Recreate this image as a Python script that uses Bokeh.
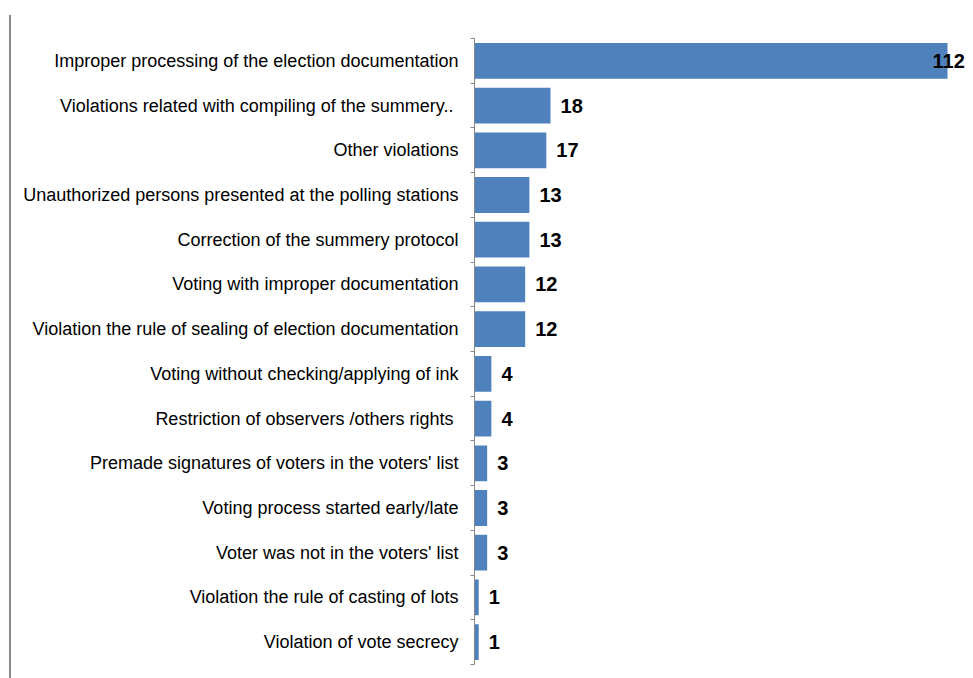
from bokeh.plotting import figure
from bokeh.models import ColumnDataSource, FixedTicker, Range1d
from bokeh.core.properties import value
from bokeh.embed import file_html
from bokeh.resources import INLINE

categories = [
    "Improper processing of the election documentation",
    "Violations related with compiling of  the summery..",
    "Other violations",
    "Unauthorized persons presented at the polling stations",
    "Correction of the summery protocol",
    "Voting with improper documentation",
    "Violation the rule of sealing of election documentation",
    "Voting without checking/applying of ink",
    "Restriction of observers /others rights ",
    "Premade signatures of voters in the voters' list",
    "Voting process started early/late",
    "Voter was not in the voters' list",
    "Violation the rule of casting of lots",
    "Violation of vote secrecy",
]
counts = [112, 18, 17, 13, 13, 12, 12, 4, 4, 3, 3, 3, 1, 1]

n = len(categories)
ypos = [n - i - 0.5 for i in range(n)]
vmax = max(counts)
offsets = [10 if v < vmax else -15 for v in counts]
src = ColumnDataSource(dict(y=ypos, v=counts, lab=[str(c) for c in counts], xo=offsets))

W, H = 973, 678
mleft, bw, mtop = 9, 2, 15     # outer offset and width of the left border line
content_left = mleft + bw
left, top, bottom = 474 - content_left, 38 - mtop, 14
px_per_unit = 473 / 112.0
p = figure(width=W - content_left, height=H - mtop, output_backend="svg", toolbar_location=None,
           x_range=Range1d(0, (W - 474) / px_per_unit), y_range=Range1d(0, n),
           min_border_left=left, min_border_right=0, min_border_top=top, min_border_bottom=bottom)
p.margin = (mtop, 0, 0, mleft)
p.styles = {"border-left": f"{bw}px solid #8c8c8c"}
p.outline_line_color = None
p.xgrid.visible = False
p.ygrid.visible = False
p.xaxis.visible = False
p.background_fill_color = "white"
p.border_fill_color = "white"

p.hbar(y="y", right="v", left=0, height=0.8, source=src, color="#4F81BD", line_color=None)
p.text(x="v", y="y", text="lab", source=src, x_offset="xo", text_baseline="middle",
       text_align="left", text_font=value("Liberation Sans"), text_font_size="20px",
       text_font_style="bold", text_color="black")

ax = p.yaxis[0]
ax.ticker = FixedTicker(ticks=ypos, minor_ticks=[float(i) for i in range(n + 1)])
ax.major_label_overrides = {y: c for y, c in zip(ypos, categories)}
ax.major_tick_line_color = None
ax.major_tick_out = 0
ax.major_tick_in = 0
ax.minor_tick_out = 4
ax.minor_tick_in = 0
ax.minor_tick_line_color = "#868686"
ax.axis_line_color = "#868686"
ax.major_label_standoff = 12
ax.major_label_text_font = "Liberation Sans"
ax.major_label_text_font_size = "18px"
ax.major_label_text_color = "black"

open("out.html", "w").write(file_html(p, INLINE))
